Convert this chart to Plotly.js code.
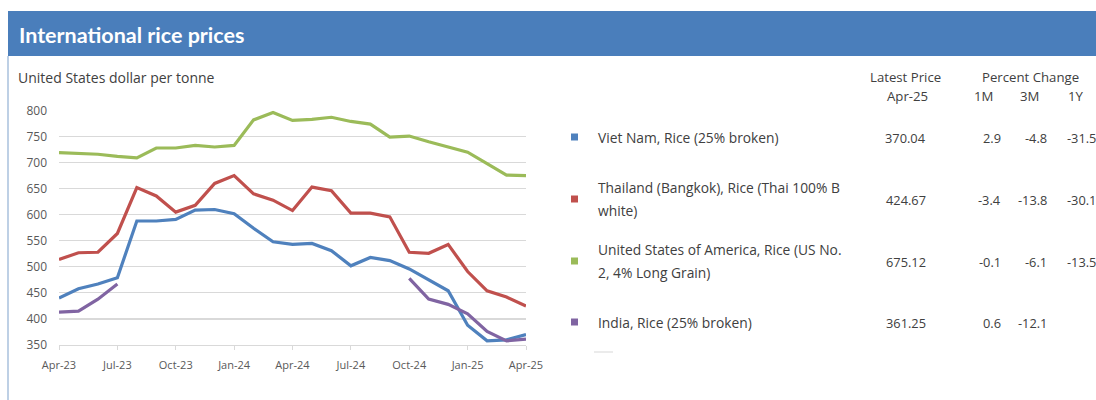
<!DOCTYPE html>
<html>
<head>
<meta charset="utf-8">
<script src="https://cdn.plot.ly/plotly-3.0.1.min.js"></script>
<style>
html,body{margin:0;padding:0;background:#fff;}
#chart{width:1096px;height:400px;}
</style>
</head>
<body>
<div id="chart"></div>
<script>
// ---- Data ----
const months = ["Apr-23","May-23","Jun-23","Jul-23","Aug-23","Sep-23","Oct-23","Nov-23","Dec-23",
  "Jan-24","Feb-24","Mar-24","Apr-24","May-24","Jun-24","Jul-24","Aug-24","Sep-24","Oct-24",
  "Nov-24","Dec-24","Jan-25","Feb-25","Mar-25","Apr-25"];
const tickLabels = ["Apr-23","Jul-23","Oct-23","Jan-24","Apr-24","Jul-24","Oct-24","Jan-25","Apr-25"];

const vietNam  = [440,458,467,479,588,588,591,609,610,602,574,548,543,545,531,502,518,512,496,475,454,388,358,360,370.04];
const thailand = [514,527,528,564,652,636,605,618,660,675,640,628,608,653,646,603,603,596,528,526,543,491,454,442,424.67];
const usa      = [719,717,716,712,709,728,728,733,730,733,782,796,781,783,787,779,774,749,751,740,730,720,698,676,675.12];
const india    = [413,415,438,467,null,null,null,null,null,null,null,null,null,null,null,null,null,null,478,438,428,410,376,358,361.25];

const seriesNames = ["Viet Nam, Rice (25% broken)","Thailand (Bangkok), Rice (Thai 100% B white)",
  "United States of America, Rice (US No. 2, 4% Long Grain)","India, Rice (25% broken)"];
const tableLines = [["Viet Nam, Rice (25% broken)"],
  ["Thailand (Bangkok), Rice (Thai 100% B","white)"],
  ["United States of America, Rice (US No.","2, 4% Long Grain)"],
  ["India, Rice (25% broken)"]];
const latestPrice = ["370.04","424.67","675.12","361.25"];
const change1M = ["2.9","-3.4","-0.1","0.6"];
const change3M = ["-4.8","-13.8","-6.1","-12.1"];
const change1Y = ["-31.5","-30.1","-13.5",""];
const colors = ["#4F81BD","#C0504D","#9BBB59","#8064A2"];

// ---- Layout helpers (pixel -> paper) ----
const W = 1096, H = 400;
const px = x => x / W;
const py = y => 1 - y / H;
const FONT = "'Open Sans', sans-serif";
const TXT = "#404040";

const allSeries = [vietNam, thailand, usa, india];
const traces = allSeries.map((ys, i) => ({
  type: "scatter", mode: "lines", x: months, y: ys, name: seriesNames[i],
  line: {color: colors[i], width: 3.2, shape: "linear"}, connectgaps: false,
  hoverinfo: "skip", showlegend: false
}));

const annotations = [];
const shapes = [];

// header bar
shapes.push({type:"rect", xref:"paper", yref:"paper", x0:px(8), x1:1, y0:py(56), y1:py(11),
  fillcolor:"#4A7EBB", line:{width:0}, layer:"below"});
// left border
shapes.push({type:"line", xref:"paper", yref:"paper", x0:px(8), x1:px(8), y0:py(56), y1:0,
  line:{color:"#A9C0DC", width:1.5}});
// faint stub under the table
shapes.push({type:"line", xref:"paper", yref:"paper", x0:px(594), x1:px(613), y0:py(352), y1:py(352),
  line:{color:"#E4E4E4", width:1.5}});

annotations.push({xref:"paper", yref:"paper", x:px(17), y:py(35), xanchor:"left", yanchor:"middle",
  text:"<b>International rice prices</b>", showarrow:false,
  font:{family:"Lato, 'Open Sans', sans-serif", size:21.5, color:"#ffffff"}});
annotations.push({xref:"paper", yref:"paper", x:px(16), y:py(77), xanchor:"left", yanchor:"middle",
  text:"United States dollar per tonne", showarrow:false,
  font:{family:FONT, size:14, color:TXT}});

// table headers
const hdr = (t, x, y) => annotations.push({xref:"paper", yref:"paper", x:px(x), y:py(y),
  xanchor:"center", yanchor:"middle", text:t, showarrow:false,
  font:{family:FONT, size:13.2, color:TXT}});
hdr("Latest Price", 905, 77);
hdr("Apr-25", 907, 96);
hdr("Percent Change", 1030, 77);
hdr("1M", 983.5, 96);
hdr("3M", 1029, 96);
hdr("1Y", 1076, 96);

const rowY = [137, 199, 261, 322];
tableLines.forEach((lines, i) => {
  const cy = rowY[i];
  shapes.push({type:"rect", xref:"paper", yref:"paper", x0:px(571), x1:px(578), y0:py(cy+3.5), y1:py(cy-3.5),
    fillcolor:colors[i], line:{width:0}});
  const n = lines.length;
  lines.forEach((ln, j) => {
    const y = cy + (j - (n - 1) / 2) * 23;
    annotations.push({xref:"paper", yref:"paper", x:px(596), y:py(y), xanchor:"left", yanchor:"middle",
      text:ln, showarrow:false, font:{family:FONT, size:13.8, color:TXT}});
  });
  const val = (t, x, anchor) => annotations.push({xref:"paper", yref:"paper", x:px(x), y:py(cy+1),
    xanchor:anchor, yanchor:"middle", text:t, showarrow:false, font:{family:FONT, size:12.8, color:TXT}});
  val(latestPrice[i], 928, "right");
  val(change1M[i], 1003, "right");
  val(change3M[i], 1049, "right");
  if (change1Y[i]) val(change1Y[i], 1065, "left");
});

const layout = {
  width: W, height: H,
  margin: {l:0, r:0, t:0, b:0},
  paper_bgcolor: "#ffffff", plot_bgcolor: "#ffffff",
  font: {family: FONT, color: "#595959"},
  xaxis: {
    type: "category", domain: [px(59), px(526)], range: [0, 24],
    tickmode: "array", tickvals: tickLabels, ticktext: tickLabels,
    showgrid: false, zeroline: false, showline: true, linecolor: "#D9D9D9", linewidth: 1,
    ticks: "outside", ticklen: 4, tickcolor: "#D9D9D9", ticklabelstandoff: 6,
    tickfont: {family: FONT, size: 11, color: "#595959"}, fixedrange: true
  },
  yaxis: {
    domain: [py(345), py(110.5)], range: [350, 800],
    tickmode: "linear", tick0: 350, dtick: 50,
    showgrid: true, gridcolor: "#D9D9D9", gridwidth: 1.2, zeroline: false, showline: false,
    ticks: "", ticklabelstandoff: 11,
    tickfont: {family: FONT, size: 12, color: "#595959"}, fixedrange: true
  },
  shapes: shapes,
  annotations: annotations,
  showlegend: false
};

Plotly.newPlot("chart", traces, layout, {displayModeBar: false, staticPlot: true});
</script>
</body>
</html>
